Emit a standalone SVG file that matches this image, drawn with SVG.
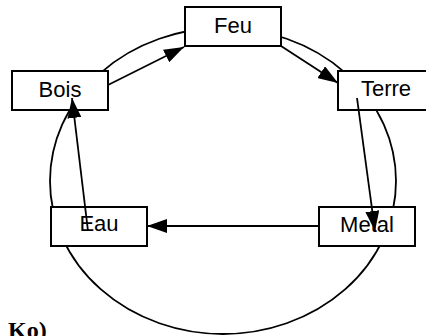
<svg xmlns="http://www.w3.org/2000/svg" width="426" height="336" viewBox="0 0 426 336">
<defs>
<style>
.box{fill:#fff;stroke:#000;stroke-width:2}
.lbl{font-family:"Liberation Sans",Arial,sans-serif;font-size:22px;fill:#000;text-anchor:middle}
.ring{fill:none;stroke:#000;stroke-width:1.8}
.conn line{stroke:#000;stroke-width:1.8;marker-end:url(#ah)}
</style>
<marker id="ah" markerUnits="userSpaceOnUse" markerWidth="20" markerHeight="14" refX="20" refY="7" orient="auto" viewBox="0 0 20 14">
<path d="M0,0 L20,7 L0,14 Z" fill="#000"/>
</marker>
</defs>
<rect width="426" height="336" fill="#fff"/>
<ellipse class="ring" cx="223" cy="181" rx="173" ry="153"/>
<g id="feu"><rect class="box" x="185" y="7" width="96" height="39"/><text class="lbl" x="233" y="33">Feu</text></g>
<g id="bois"><rect class="box" x="12" y="71" width="96" height="39"/><text class="lbl" x="60" y="97">Bois</text></g>
<g id="terre"><rect class="box" x="338" y="71" width="96" height="39"/><text class="lbl" x="386" y="96">Terre</text></g>
<g id="eau"><rect class="box" x="51" y="207" width="96" height="39"/><text class="lbl" x="99" y="231">Eau</text></g>
<g id="metal"><rect class="box" x="319" y="207" width="96" height="39"/><text class="lbl" x="367" y="232">Metal</text></g>
<g id="connectors" class="conn">
<line x1="108" y1="85" x2="184" y2="47"/>
<line x1="281" y1="46" x2="338" y2="83"/>
<line x1="357" y1="98" x2="375" y2="231"/>
<line x1="319" y1="226" x2="147" y2="226"/>
<line x1="88" y1="231" x2="72" y2="98"/>
</g>
<text x="8" y="338" font-family="'Liberation Serif','Times New Roman',serif" font-weight="bold" font-size="24">Ko)</text>
</svg>
